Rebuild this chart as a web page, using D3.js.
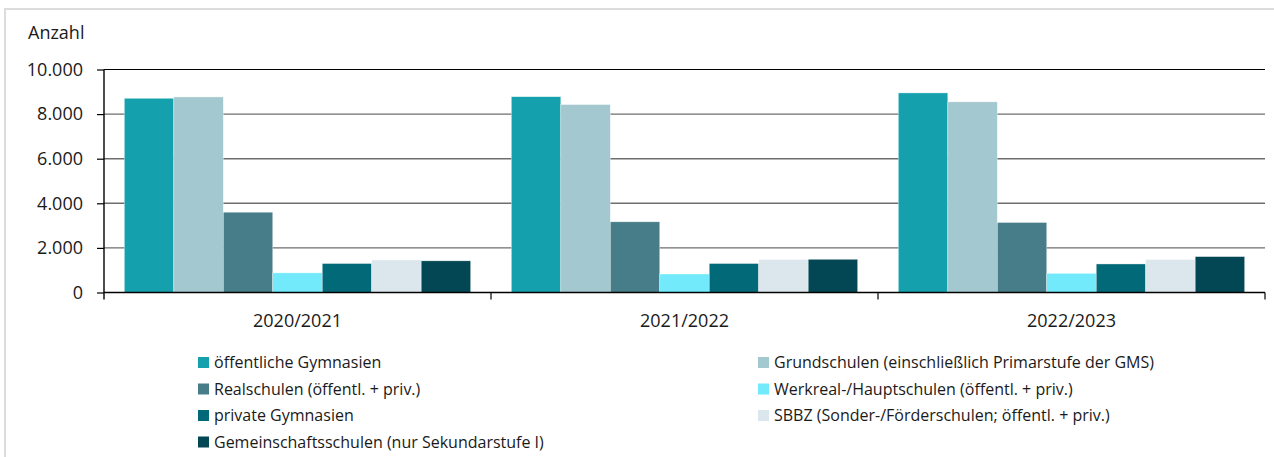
<!DOCTYPE html>
<html>
<head>
<meta charset="utf-8">
<script src="https://cdn.jsdelivr.net/npm/d3@7"></script>
<style>
  body { margin: 0; background: #fff; }
  svg { display: block; font-family: "Open Sans", sans-serif; }
</style>
</head>
<body>
<script>
// Schuljahre (x-Achse)
var years = ["2020/2021", "2021/2022", "2022/2023"];

// Schularten (Reihenfolge der Balken)
var series = [
  "öffentliche Gymnasien",
  "Grundschulen (einschließlich Primarstufe der GMS)",
  "Realschulen (öffentl. + priv.)",
  "Werkreal-/Hauptschulen (öffentl. + priv.)",
  "private Gymnasien",
  "SBBZ (Sonder-/Förderschulen; öffentl. + priv.)",
  "Gemeinschaftsschulen (nur Sekundarstufe I)"
];

var colors = ["#14a0ac", "#a3c8cf", "#467d88", "#72eafb", "#026978", "#dce7ed", "#024753"];

// Werte je Schulart, ein Wert pro Schuljahr
var oeffGymnasien   = [8710, 8780, 8950];
var grundschulen    = [8770, 8430, 8550];
var realschulen     = [3600, 3170, 3140];
var werkreal        = [880, 830, 860];
var privGymnasien   = [1300, 1300, 1280];
var sbbz            = [1460, 1480, 1480];
var gemeinschaft    = [1420, 1490, 1610];

var yTicks = [0, 2000, 4000, 6000, 8000, 10000];

var values = [oeffGymnasien, grundschulen, realschulen, werkreal, privGymnasien, sbbz, gemeinschaft];

// rows for d3: one object per year
var data = years.map(function(yr, i) {
  return { year: yr, vals: series.map(function(s, j) { return { key: s, idx: j, value: values[j][i] }; }) };
});

var width = 1274, height = 457;
var plotLeft = 104, plotRight = 1265, plotTop = 69.5, plotBottom = 292.5;

var de = d3.formatLocale({ decimal: ",", thousands: ".", grouping: [3], currency: ["", " €"] });
var fmt = de.format(",.0f");

var svg = d3.select("body").append("svg")
    .attr("width", width)
    .attr("height", height);

// frame lines (top + left)
svg.append("line").attr("x1", 5).attr("x2", width).attr("y1", 9).attr("y2", 9)
    .attr("stroke", "#dcdcdc").attr("stroke-width", 2);
svg.append("line").attr("x1", 5).attr("x2", 5).attr("y1", 8).attr("y2", height)
    .attr("stroke", "#dcdcdc").attr("stroke-width", 2);

var x0 = d3.scaleBand().domain(years).range([plotLeft, plotRight])
    .paddingInner(0.105).paddingOuter(0.0525);
var x1 = d3.scaleBand().domain(series).range([0, x0.bandwidth()]);
var y = d3.scaleLinear().domain([0, 10000]).range([plotBottom, plotTop]);

// gridlines
svg.append("g")
    .selectAll("line")
    .data(yTicks.filter(function(d) { return d > 0; }))
    .enter().append("line")
    .attr("x1", plotLeft).attr("x2", plotRight)
    .attr("y1", function(d) { return y(d); })
    .attr("y2", function(d) { return y(d); })
    .attr("stroke", function(d) { return d === 10000 ? "#000" : "#6e6e6e"; })
    .attr("stroke-width", function(d) { return d === 10000 ? 1.2 : 1.4; });

// bars
var groups = svg.append("g").selectAll("g")
    .data(data)
    .enter().append("g")
    .attr("transform", function(d) { return "translate(" + x0(d.year) + ",0)"; });

groups.selectAll("rect")
    .data(function(d) { return d.vals; })
    .enter().append("rect")
    .attr("x", function(d) { return x1(d.key); })
    .attr("width", x1.bandwidth())
    .attr("y", function(d) { return y(d.value); })
    .attr("height", function(d) { return y(0) - y(d.value); })
    .attr("fill", function(d) { return colors[d.idx]; })
    .attr("stroke", "#fff")
    .attr("stroke-width", 0.6)
    .attr("stroke-opacity", 0.6);

// y axis
var yAxis = svg.append("g")
    .attr("transform", "translate(" + plotLeft + ",0)")
    .call(d3.axisLeft(y).tickValues(yTicks).tickFormat(fmt).tickSize(7).tickPadding(14));
yAxis.select(".domain").attr("d", "M0," + plotTop + "V" + (plotBottom + 7)).attr("stroke", "#000").attr("stroke-width", 1.4);
yAxis.selectAll(".tick line").attr("stroke", "#000").attr("stroke-width", 1.2);
yAxis.selectAll("text").attr("font-size", 18).attr("fill", "#1a1a1a").attr("font-family", "Open Sans");

// x axis
var bounds = years.map(function(d) { return x0(d) + x0.bandwidth() + x0.step() * x0.paddingInner() / 2; });
var xAxis = svg.append("g");
xAxis.append("line")
    .attr("x1", plotLeft).attr("x2", plotRight).attr("y1", plotBottom).attr("y2", plotBottom)
    .attr("stroke", "#000").attr("stroke-width", 1.4);
xAxis.selectAll(".sep")
    .data(bounds)
    .enter().append("line")
    .attr("x1", function(d) { return d; }).attr("x2", function(d) { return d; })
    .attr("y1", plotBottom).attr("y2", plotBottom + 7)
    .attr("stroke", "#000").attr("stroke-width", 1.2);
xAxis.selectAll("text")
    .data(years)
    .enter().append("text")
    .attr("x", function(d) { return x0(d) + x0.bandwidth() / 2; })
    .attr("y", 327)
    .attr("text-anchor", "middle")
    .attr("font-size", 18)
    .attr("fill", "#1a1a1a")
    .text(function(d) { return d; });

// y label
svg.append("text")
    .attr("x", 28).attr("y", 39)
    .attr("font-size", 18)
    .attr("fill", "#1a1a1a")
    .text("Anzahl");

// legend, two columns
var legend = svg.append("g").selectAll("g")
    .data(series)
    .enter().append("g")
    .attr("transform", function(d, i) {
      var col = i % 2, row = Math.floor(i / 2);
      return "translate(" + (col === 0 ? 198 : 758) + "," + (362.5 + row * 26.5) + ")";
    });

legend.append("rect")
    .attr("x", 0).attr("y", -5.5)
    .attr("width", 11).attr("height", 11)
    .attr("fill", function(d, i) { return colors[i]; });

legend.append("text")
    .attr("x", 16)
    .attr("dy", "0.35em")
    .attr("font-size", 16)
    .attr("fill", "#1a1a1a")
    .text(function(d) { return d; });
</script>
</body>
</html>
